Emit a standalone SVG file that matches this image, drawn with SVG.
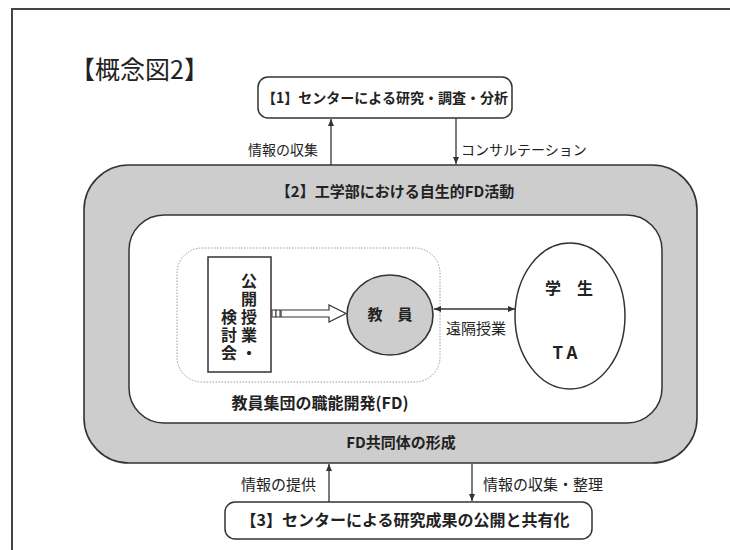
<svg xmlns="http://www.w3.org/2000/svg" width="730" height="550" viewBox="0 0 730 550">
<style>
text{font-family:"Noto Sans CJK JP","Liberation Sans",sans-serif;fill:#222}
.b{font-weight:bold}
.v{writing-mode:vertical-rl;font-weight:bold;font-size:16px;letter-spacing:2px}
.ln{stroke:#333;stroke-width:1.3;fill:none}
.box{fill:#fff;stroke:#333;stroke-width:1.5}
.gray{fill:#cdcdcd;stroke:#333;stroke-width:1.6}
</style>
<defs>
<marker id="ah" markerWidth="8" markerHeight="8" refX="7" refY="4" orient="auto-start-reverse" markerUnits="userSpaceOnUse">
<path d="M0,1 L7,4 L0,7 Z" fill="#333"/>
</marker>
</defs>
<g id="frame">
<path d="M12,550 V9 H730" fill="none" stroke="#444" stroke-width="2"/>
</g>
<g id="title"><text x="70" y="79" font-size="25">【概念図2】</text></g>
<g id="n2">
<rect class="gray" x="84" y="165" width="613" height="298" rx="45"/>
<text class="b" x="395" y="197" font-size="15" text-anchor="middle">【2】工学部における自生的FD活動</text>
<text class="b" x="401" y="448" font-size="15" text-anchor="middle">FD共同体の形成</text>
</g>
<g id="inner">
<rect class="box" x="129" y="215" width="533" height="208" rx="35"/>
<text class="b" x="320" y="409" font-size="16" text-anchor="middle">教員集団の職能開発(FD)</text>
</g>
<g id="group">
<rect x="177" y="248" width="263" height="134" rx="25" fill="#fff" stroke="#9a9a9a" stroke-width="1" stroke-dasharray="1.5 1.5"/>
</g>
<g id="koukai">
<rect class="box" x="208" y="257" width="63" height="115"/>
<text class="v" x="249" y="273">公開授業・</text>
<text class="v" x="229" y="309">検討会</text>
</g>
<g id="kyouin">
<ellipse class="gray" cx="390" cy="315" rx="43" ry="40"/>
<text class="b" x="390" y="320" font-size="15" text-anchor="middle">教　員</text>
</g>
<g id="gakusei">
<ellipse cx="570" cy="316" rx="55" ry="73" fill="#fff" stroke="#333" stroke-width="1.5"/>
<text class="b" x="569" y="294" font-size="16" text-anchor="middle">学　生</text>
<text class="b" x="567" y="359" font-size="17" text-anchor="middle" letter-spacing="4">TA</text>
</g>
<g id="n1">
<rect class="box" x="258" y="77" width="254" height="41" rx="10"/>
<text class="b" x="385" y="103" font-size="14" text-anchor="middle">【1】センターによる研究・調査・分析</text>
</g>
<g id="n3">
<rect class="box" x="225" y="502" width="367" height="37" rx="10"/>
<text class="b" x="405" y="526" font-size="16" text-anchor="middle">【3】センターによる研究成果の公開と共有化</text>
</g>
<g id="connectors">
<line class="ln" x1="331" y1="165" x2="331" y2="119" marker-end="url(#ah)"/>
<line class="ln" x1="456" y1="118" x2="456" y2="164" marker-end="url(#ah)"/>
<line class="ln" x1="329" y1="502" x2="329" y2="464" marker-end="url(#ah)"/>
<line class="ln" x1="472" y1="464" x2="472" y2="501" marker-end="url(#ah)"/>
<line class="ln" x1="434" y1="309" x2="515" y2="309" marker-start="url(#ah)" marker-end="url(#ah)"/>
<rect x="272" y="310" width="4" height="7" fill="#fff" stroke="#333" stroke-width="1"/>
<rect x="276" y="310" width="4" height="7" fill="#fff" stroke="#333" stroke-width="1"/>
<path d="M281,310 H329 V305 L346,313.5 L329,322 V317 H281 Z" fill="#fff" stroke="#333" stroke-width="1.2"/>
</g>
<g id="labels" font-size="14">
<text x="318" y="155" text-anchor="end">情報の収集</text>
<text x="461" y="155">コンサルテーション</text>
<text x="476" y="334" text-anchor="middle" font-size="15">遠隔授業</text>
<text x="316" y="490" text-anchor="end" font-size="15">情報の提供</text>
<text x="483" y="490" font-size="15">情報の収集・整理</text>
</g>
</svg>
